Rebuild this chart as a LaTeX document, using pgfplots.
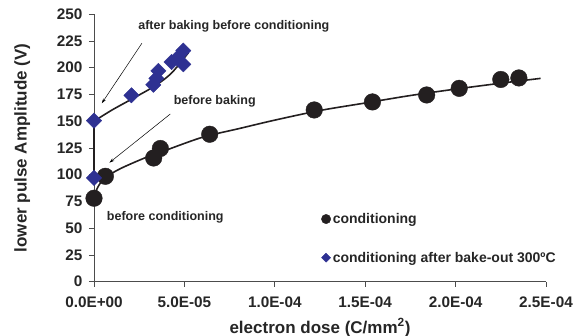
\documentclass[border=0pt]{standalone}
\usepackage{fontspec}
\setmainfont{Liberation Sans}
\usepackage{pgfplots}
\pgfplotsset{compat=1.18}
\usetikzlibrary{arrows.meta}
\definecolor{dblue}{RGB}{46,49,146}
\definecolor{dblack}{RGB}{35,31,32}
\begin{document}
\begin{tikzpicture}
\begin{axis}[
  scale only axis, width=452pt, height=267.5pt,
  xmin=0, xmax=2.5e-4, ymin=0, ymax=250,
  axis x line=bottom, axis y line=left,
  axis line style={-, black!70, line width=0.8pt},
  xtick={0,5e-5,1e-4,1.5e-4,2e-4,2.5e-4},
  xticklabels={0.0E+00,5.0E-05,1.0E-04,1.5E-04,2.0E-04,2.5E-04},
  scaled x ticks=false,
  ytick={0,25,...,250},
  tick align=outside, major tick length=5pt,
  tick style={black!70, line width=0.8pt},
  ticklabel style={font=\fontsize{15.3}{17}\selectfont\bfseries, text=black!85},
  xticklabel style={yshift=-7pt},
  yticklabel style={xshift=-3pt},
  /pgf/number format/assume math mode=true,
  xlabel={electron dose (C/mm\textsuperscript{2})},
  ylabel={lower pulse Amplitude (V)},
  label style={font=\fontsize{17}{19}\selectfont\bfseries, text=black!85},
  xlabel style={at={(axis description cs:0.5,-0.172)}, anchor=center},
  ylabel style={at={(axis description cs:-0.159,0.5)}, anchor=center},
  clip=false,
  legend image code/.code={\draw[#1] plot coordinates {(0pt,0pt)};},
  legend style={draw=none, fill=none, at={(axis cs:1.24e-4,40.5)}, anchor=west,
    row sep=23pt, font=\fontsize{14}{16}\selectfont\bfseries, text=black!85},
  legend cell align=left,
]
% fit lines
\addplot[forget plot, dblack, line width=1.6pt, smooth] coordinates {
  (0,79) (2e-6,88) (6e-6,97) (1.5e-5,106) (3e-5,117) (4e-5,123) (6e-5,135)
  (8e-5,143) (1e-4,151) (1.25e-4,160) (1.5e-4,167) (1.75e-4,174) (2e-4,180)
  (2.25e-4,185.5) (2.47e-4,190)};
\addplot[forget plot, dblack, line width=1.6pt, smooth] coordinates {
  (0,150) (1e-5,160.5) (2.07e-5,170.5) (3.37e-5,183) (4.29e-5,195) (5.22e-5,214)};
\addplot[forget plot, dblack, line width=2.6pt] coordinates {(0,96) (0,150)};
% data
\addplot[forget plot, only marks, mark=*, mark size=8.3pt, dblack, mark options={fill=dblack, draw=dblack}] coordinates {
  (0,78) (6.3e-6,98.5) (3.3e-5,115.6) (3.67e-5,124.5) (6.4e-5,137.8)
  (1.218e-4,160.5) (1.54e-4,168) (1.84e-4,174.5) (2.02e-4,180.7) (2.25e-4,189) (2.35e-4,190.4)};
\addplot[forget plot, only marks, mark=square*, mark size=5.4pt, dblue, mark options={fill=dblue, draw=dblue, rotate=45}] coordinates {
  (0,97) (0,150.5) (2.07e-5,174.2) (3.28e-5,184) (3.45e-5,190) (3.56e-5,197)
  (4.29e-5,205.3) (4.6e-5,209) (4.94e-5,216) (4.94e-5,203.2)};
\addlegendimage{mark=*, mark size=4.7pt, draw=dblack, fill=dblack}
\addlegendentry{conditioning}
\addlegendimage{mark=square*, mark size=3.2pt, draw=dblue, fill=dblue, mark options={rotate=45}}
\addlegendentry{conditioning after bake-out 300ºC}
% annotations
\draw[-{Stealth[length=5pt,width=3pt]}, black, line width=0.5pt] (axis cs:2.65e-5,222.8) -- (axis cs:4.3e-6,166.7);
\draw[-{Stealth[length=5pt,width=3pt]}, black, line width=0.5pt] (axis cs:4.22e-5,156.7) -- (axis cs:8.5e-6,111.2);
\node[anchor=west, inner sep=0pt, font=\fontsize{12.5}{14}\selectfont\bfseries, text=black!85] at (axis cs:2.44e-5,239) {after baking before conditioning};
\node[anchor=west, inner sep=0pt, font=\fontsize{12.5}{14}\selectfont\bfseries, text=black!85] at (axis cs:4.4e-5,169) {before baking};
\node[anchor=west, inner sep=0pt, font=\fontsize{12.5}{14}\selectfont\bfseries, text=black!85] at (axis cs:7.05e-6,60.2) {before conditioning};
\end{axis}
\pgfresetboundingbox
\path (-94pt,-54.3pt) rectangle (487pt,281.7pt);
\end{tikzpicture}
\end{document}
